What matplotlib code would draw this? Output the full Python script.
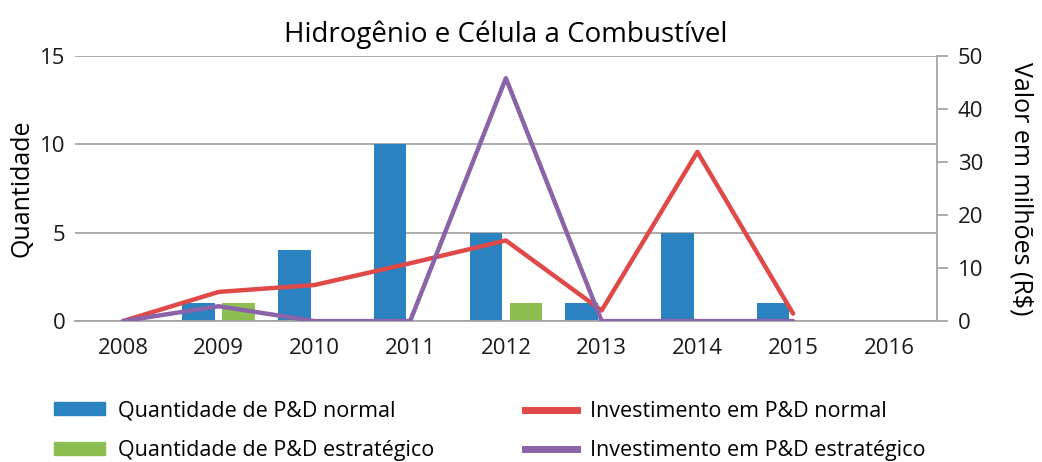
import matplotlib
matplotlib.use('Agg')
import matplotlib.pyplot as plt
from matplotlib.patches import Patch
from matplotlib.lines import Line2D
import numpy as np

plt.rcParams['font.family'] = ['Open Sans', 'DejaVu Sans']

# dados
anos = ['2008', '2009', '2010', '2011', '2012', '2013', '2014', '2015', '2016']
qtd_normal = [0, 1, 4, 10, 5, 1, 5, 1, 0]
qtd_estrategico = [0, 1, 0, 0, 1, 0, 0, 0, 0]
inv_normal = [0, 5.5, 6.8, 10.9, 15.2, 2.0, 31.9, 1.4]          # até 2015
inv_estrategico = [0, 2.8, 0, 0, 45.8, 0, 0, 0]                 # até 2015

cor_azul = '#2a82c0'
cor_verde = '#8dbf50'
cor_vermelho = '#df4a48'
cor_roxo = '#8a63a8'
cinza = '#a6a6a6'

fig = plt.figure(figsize=(10.42, 4.62), dpi=100)
ax = fig.add_axes([0.072, 0.305, 0.827, 0.574])
x = np.arange(len(anos))
largura = 0.34

ax.bar(x - 0.21, qtd_normal, largura, color=cor_azul, zorder=2)
ax.bar(x + 0.21, qtd_estrategico, largura, color=cor_verde, zorder=2)

ax.set_xlim(-0.5, 8.5)
ax.set_ylim(0, 15)
ax.set_yticks([0, 5, 10, 15])
ax.set_xticks(x)
ax.set_xticklabels(anos)
ax.yaxis.grid(True, color=cinza, linewidth=1.3)
ax.set_axisbelow(True)
for s in ['left', 'top', 'right']:
    ax.spines[s].set_visible(False)
ax.spines['bottom'].set_color(cinza)
ax.spines['bottom'].set_linewidth(1.3)
ax.tick_params(axis='both', length=0, labelsize=16, colors='#1a1a1a')
ax.tick_params(axis='x', pad=12)
ax.tick_params(axis='y', pad=7)
ax.set_ylabel('Quantidade', fontsize=18, labelpad=4)
ax.set_title('Hidrogênio e Célula a Combustível', fontsize=20, pad=10)

ax2 = ax.twinx()
ax2.plot(x[:len(inv_normal)], inv_normal, color=cor_vermelho, linewidth=3.2,
         solid_capstyle='round', zorder=3)
ax2.plot(x[:len(inv_estrategico)], inv_estrategico, color=cor_roxo, linewidth=3.2,
         solid_capstyle='round', zorder=4)
ax2.set_ylim(0, 50)
ax2.set_yticks([0, 10, 20, 30, 40, 50])
for s in ['left', 'top', 'bottom']:
    ax2.spines[s].set_visible(False)
ax2.spines['right'].set_color(cinza)
ax2.spines['right'].set_linewidth(1.3)
ax2.tick_params(axis='y', length=8, width=1.3, color=cinza, labelsize=16,
                labelcolor='#1a1a1a', pad=7)
ax2.set_ylabel('Valor em milhões (R$)', fontsize=18, rotation=-90, labelpad=36)

handles = [
    Patch(color=cor_azul, label='Quantidade de P&D normal'),
    Patch(color=cor_verde, label='Quantidade de P&D estratégico'),
    Line2D([], [], color=cor_vermelho, linewidth=5, label='Investimento em P&D normal'),
    Line2D([], [], color=cor_roxo, linewidth=5, label='Investimento em P&D estratégico'),
]
fig.legend(handles=handles, ncol=2, loc='lower left', bbox_to_anchor=(0.033, -0.04),
           frameon=False, fontsize=15.5, handlelength=2.4, handleheight=0.55,
           columnspacing=4.2, labelspacing=0.86, handletextpad=0.6)

fig.savefig('out.png', dpi=100)
